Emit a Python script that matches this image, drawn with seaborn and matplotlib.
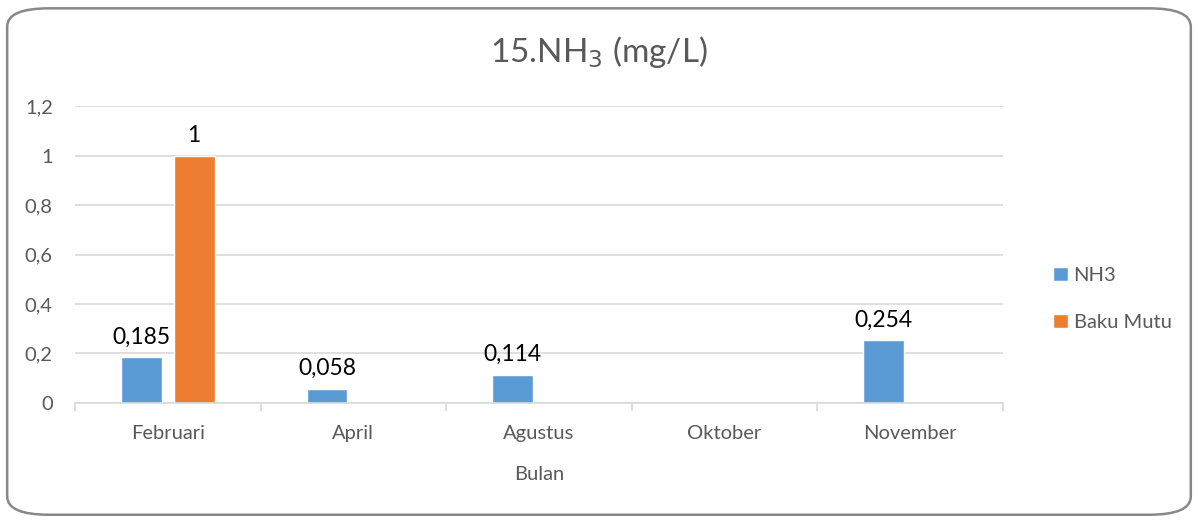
import numpy as np
import pandas as pd
import seaborn as sns
import matplotlib.pyplot as plt
from matplotlib.patches import FancyBboxPatch

bulan = ['Februari', 'April', 'Agustus', 'Oktober', 'November']
nh3 = [0.185, 0.058, 0.114, np.nan, 0.254]
baku_mutu = [1, np.nan, np.nan, np.nan, np.nan]

df = pd.DataFrame({
    'Bulan': bulan * 2,
    'Nilai': nh3 + baku_mutu,
    'Seri': ['NH3'] * len(bulan) + ['Baku Mutu'] * len(bulan),
})

sns.set_style('white')
plt.rcParams['font.family'] = ['Lato', 'DejaVu Sans']

fig = plt.figure(figsize=(11.98, 5.21), dpi=100)
ax = fig.add_axes([0.0626, 0.2265, 0.7745, 0.57])

sns.barplot(data=df, x='Bulan', y='Nilai', hue='Seri', order=bulan,
            palette=['#5b9bd5', '#ed7d31'], saturation=1, width=0.57, gap=0.23,
            errorbar=None, ax=ax)

fmt = lambda v: f'{v:g}'.replace('.', ',')
for c in ax.containers:
    ax.bar_label(c, fmt=fmt, padding=7, fontsize=16.5, color='black')

ax.set_ylim(0, 1.2)
ax.set_xlim(-0.5, len(bulan) - 0.5)
yt = np.arange(0, 1.21, 0.2)
ax.set_yticks(yt)
ax.set_yticklabels([fmt(round(v, 1)) for v in yt])
ax.yaxis.grid(True, color='#d9d9d9', linewidth=1.2)
ax.set_axisbelow(True)
for s in ['left', 'right', 'top']:
    ax.spines[s].set_visible(False)
ax.spines['bottom'].set_color('#d9d9d9')
ax.spines['bottom'].set_linewidth(1.2)
ax.tick_params(axis='y', length=0, pad=16, labelsize=14.5, labelcolor='#595959')
ax.tick_params(axis='x', length=0, pad=16, labelsize=14.5, labelcolor='#595959')
ax.set_xticks(np.arange(-0.5, len(bulan)), minor=True)
ax.tick_params(axis='x', which='minor', bottom=True, length=6, color='#d9d9d9', width=1.2)
ax.set_xlabel('Bulan', fontsize=14.5, color='#595959', labelpad=17)
ax.set_ylabel('')

ax.legend(loc='center left', bbox_to_anchor=(1.035, 0.35), frameon=False,
          fontsize=14.5, labelcolor='#595959', handlelength=0.7, handleheight=0.7,
          handletextpad=0.3, labelspacing=1.5)

fig.text(0.5, 0.9, '15.NH$_3$ (mg/L)', ha='center', va='center',
         fontsize=24, color='#595959')

border = FancyBboxPatch((0.006, 0.012), 0.988, 0.972, transform=fig.transFigure,
                        boxstyle='round,pad=0,rounding_size=0.035',
                        facecolor='none', edgecolor='#888888', linewidth=1.8)
fig.patches.append(border)

fig.savefig('out.png', dpi=100)
